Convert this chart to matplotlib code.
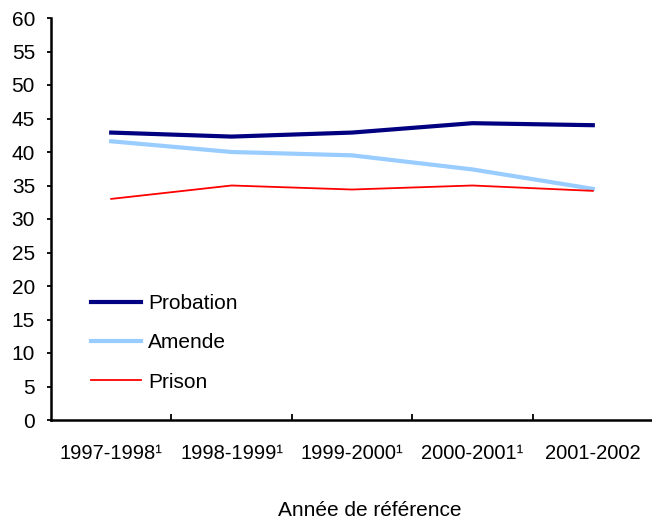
import matplotlib
matplotlib.use("Agg")
import matplotlib.pyplot as plt
from matplotlib.ticker import FixedLocator, NullFormatter

plt.rcParams["font.family"] = ["Liberation Sans", "DejaVu Sans"]

years = ["1997-1998¹", "1998-1999¹", "1999-2000¹", "2000-2001¹", "2001-2002"]
probation = [42.9, 42.3, 42.9, 44.3, 44.0]
amende = [41.6, 40.0, 39.5, 37.4, 34.5]
prison = [33.0, 35.0, 34.4, 35.0, 34.2]

fig = plt.figure(figsize=(6.52, 5.21), dpi=100)
ax = fig.add_axes([51 / 652, 1 - 420 / 521, 602 / 652, 402 / 521])

x = list(range(len(years)))
ax.plot(x, probation, color="#000080", lw=3, label="Probation")
ax.plot(x, amende, color="#99ccff", lw=3, label="Amende")
ax.plot(x, prison, color="#ff0000", lw=1.3, label="Prison")

ax.set_xlim(-0.5, len(years) - 0.5)
ax.set_ylim(0, 60)
ax.set_yticks(range(0, 61, 5))
ax.set_xticks(x)
ax.set_xticklabels(years, fontsize=14.5)
ax.xaxis.set_minor_locator(FixedLocator([0.5, 1.5, 2.5, 3.5]))
ax.xaxis.set_minor_formatter(NullFormatter())
ax.tick_params(axis="x", which="major", length=0, pad=17)
ax.tick_params(axis="x", which="minor", direction="in", length=4, width=1.3)
ax.tick_params(axis="y", length=3, width=1.3, labelsize=15, pad=8.5)

for side in ("top", "right"):
    ax.spines[side].set_visible(False)
for side in ("left", "bottom"):
    ax.spines[side].set_linewidth(1.8)

ax.legend(loc="upper left", bbox_to_anchor=(0.066, 0.313), frameon=False,
          fontsize=15, handlelength=2.4, handletextpad=0.35,
          labelspacing=0.97, borderpad=0, borderaxespad=0)

fig.text(370 / 652, 1 - 510 / 521, "Année de référence", fontsize=15,
         ha="center", va="center")

fig.savefig("out.png", dpi=100)
